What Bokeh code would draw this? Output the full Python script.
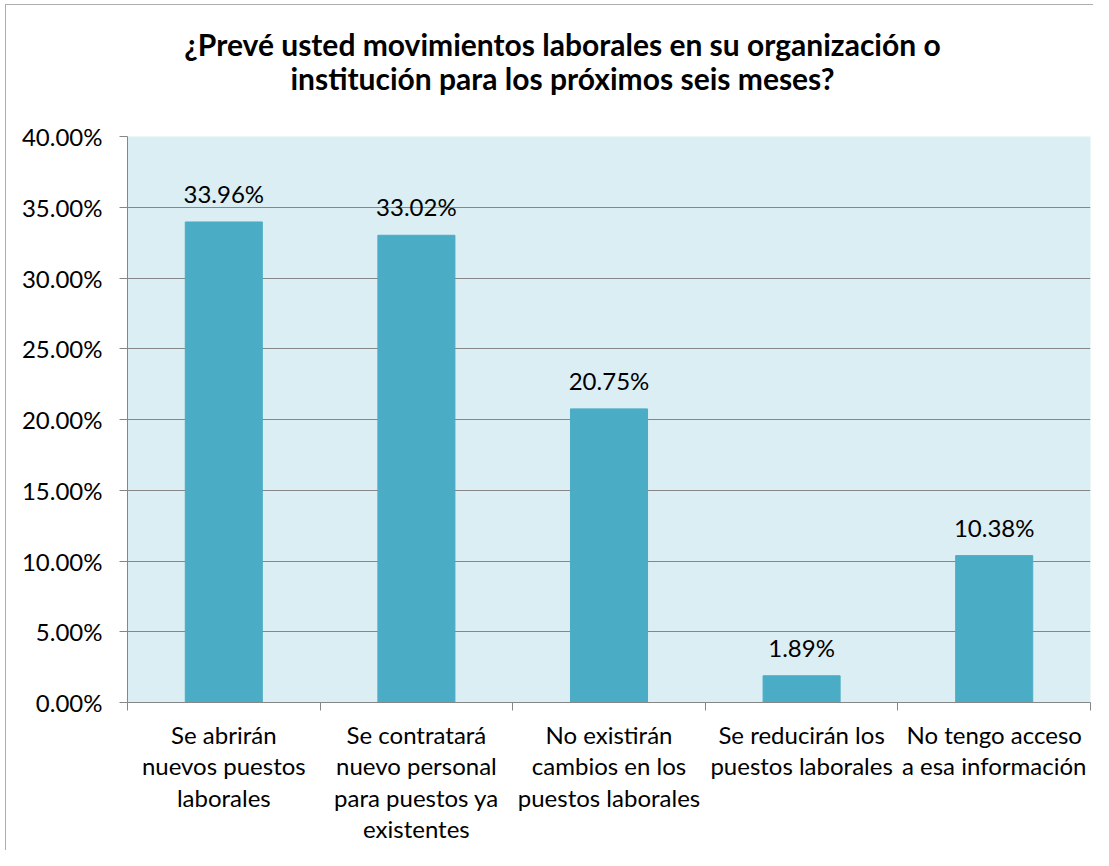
from bokeh.plotting import figure
from bokeh.models import (ColumnDataSource, FixedTicker, NumeralTickFormatter,
                          Range1d, LabelSet, Label)
from bokeh.core.properties import value
from bokeh.embed import file_html
from bokeh.resources import INLINE

categories = [
    "Se abrirán\nnuevos puestos\nlaborales",
    "Se contratará\nnuevo personal\npara puestos ya\nexistentes",
    "No existirán\ncambios en los\npuestos laborales",
    "Se reducirán los\npuestos laborales",
    "No tengo acceso\na esa información",
]
values = [0.3396, 0.3302, 0.2075, 0.0189, 0.1038]
value_labels = ["33.96%", "33.02%", "20.75%", "1.89%", "10.38%"]
y_ticks = [0.0, 0.05, 0.10, 0.15, 0.20, 0.25, 0.30, 0.35, 0.40]
title_text = ("¿Prevé usted movimientos laborales en su organización o\n"
              "institución para los próximos seis meses?")

FONT = "Lato"
n = len(categories)
centers = [i + 0.5 for i in range(n)]

src = ColumnDataSource(dict(x=centers, top=values, lab=value_labels))

p = figure(width=1093, height=850, output_backend="svg", toolbar_location=None,
           x_range=Range1d(0, n), y_range=Range1d(0, 0.40),
           min_border_left=127, min_border_right=3,
           min_border_top=136, min_border_bottom=148)
# outer chart border (left and top edges), drawn behind a transparent canvas
p.styles = {
    "background-color": "white",
    "background-image": "linear-gradient(#ADADAD, #ADADAD), linear-gradient(#ADADAD, #ADADAD)",
    "background-size": "1px 100%, 100% 1px",
    "background-position": "5px 4px, 5px 4px",
    "background-repeat": "no-repeat",
}

p.background_fill_color = "#DBEEF4"
p.border_fill_color = None
p.outline_line_color = None

p.vbar(x="x", top="top", width=0.4, source=src, fill_color="#4BACC6",
       line_color="#4BACC6")

p.add_layout(LabelSet(x="x", y="top", text="lab", source=src, y_offset=19,
                      text_align="center", text_baseline="alphabetic",
                      text_font=value(FONT), text_font_size="24px",
                      text_color="#000000"))

# y axis
p.yaxis.ticker = FixedTicker(ticks=y_ticks)
p.yaxis.formatter = NumeralTickFormatter(format="0.00%")
p.yaxis.major_label_text_font = FONT
p.yaxis.major_label_text_font_size = "24px"
p.yaxis.major_label_text_color = "#000000"
p.yaxis.major_label_standoff = 17
p.yaxis.axis_line_color = "#868686"
p.yaxis.major_tick_line_color = "#868686"
p.yaxis.major_tick_out = 8
p.yaxis.major_tick_in = 0
p.yaxis.minor_tick_line_color = None

# x axis: labels at centers, ticks at category boundaries
p.xaxis.ticker = FixedTicker(ticks=centers, minor_ticks=list(range(n + 1)))
p.xaxis.major_label_overrides = {c: lab for c, lab in zip(centers, categories)}
p.xaxis.major_label_text_font = FONT
p.xaxis.major_label_text_font_size = "24px"
p.xaxis.major_label_text_color = "#000000"
p.xaxis.major_label_text_line_height = 1.09
p.xaxis.major_label_standoff = 9
p.xaxis.axis_line_color = "#868686"
p.xaxis.major_tick_line_color = None
p.xaxis.minor_tick_line_color = "#868686"
p.xaxis.minor_tick_out = 8
p.xaxis.minor_tick_in = 0

p.xgrid.grid_line_color = None
p.ygrid.ticker = FixedTicker(ticks=y_ticks)
p.ygrid.grid_line_color = "#878787"

# title, placed in the panel above the frame
p.add_layout(Label(x=435, y=40, x_units="screen", y_units="screen",
                   text=title_text, text_align="center", text_baseline="bottom",
                   text_line_height=0.96,
                   text_font=FONT, text_font_style="bold",
                   text_font_size="30px", text_color="#000000"), "above")

open("out.html", "w").write(file_html(p, INLINE))
